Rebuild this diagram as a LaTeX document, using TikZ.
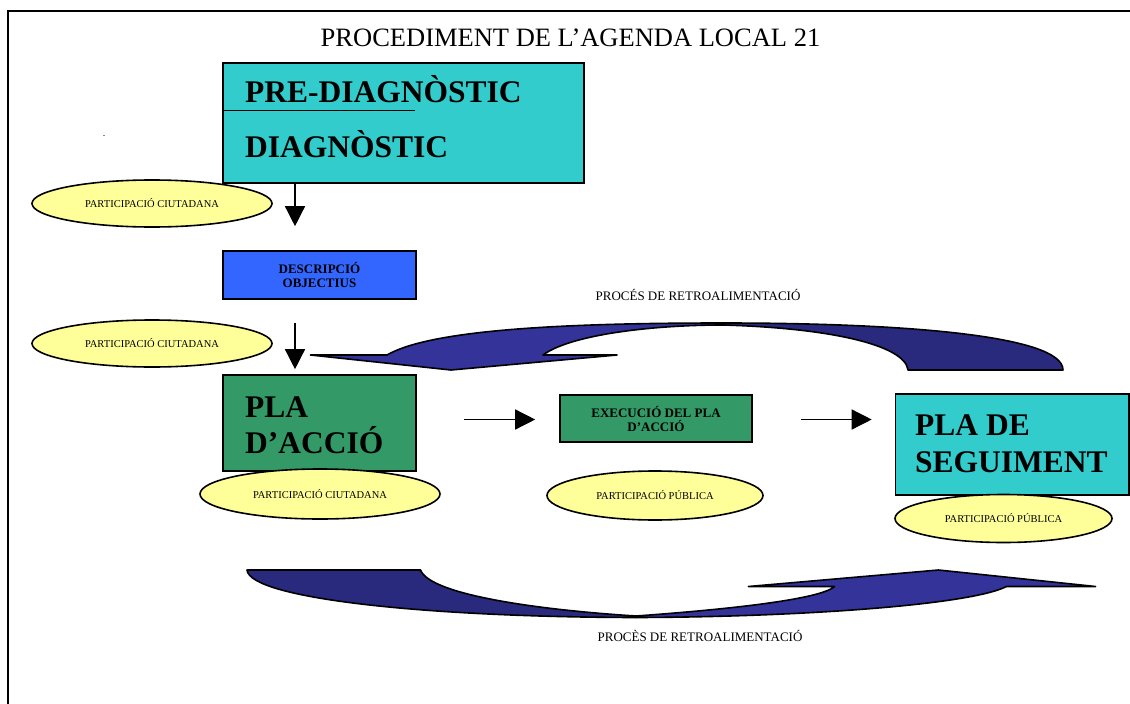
\documentclass[tikz,border=0pt]{standalone}
\usepackage{fontspec}
\setmainfont{Liberation Serif}
\usepackage{xcolor}
\usepackage{tikz}
\usetikzlibrary{shapes.geometric,arrows.meta}
\definecolor{tealbox}{HTML}{33CCCC}
\definecolor{bluebox}{HTML}{3366FF}
\definecolor{greenbox}{HTML}{339966}
\definecolor{partyellow}{HTML}{FFFF99}
\definecolor{loopblue}{HTML}{333399}
\definecolor{loopdark}{HTML}{29297D}

\begin{document}
\begin{tikzpicture}[x=1pt,y=-1pt,
        stagebox/.style={draw,line width=1.6pt,inner sep=0pt},
        partell/.style={ellipse,draw,fill=partyellow,line width=1.6pt,inner sep=0pt,font=\fontsize{10.5}{12}\selectfont},
        bigtxt/.style={anchor=base west,inner sep=0pt,font=\fontsize{31.5}{36}\selectfont\bfseries},
        smalltxt/.style={align=center,font=\fontsize{13}{14}\selectfont\bfseries},
        flowarrow/.style={-{Triangle[length=20pt,width=20pt]},line width=1.4pt},
        feedback/.style={draw,line width=1.6pt,line join=round}]
        \useasboundingbox (0,0) rectangle (1130,704);
        \draw[line width=2.5pt] (8,704) -- (8,11) -- (1130,11);

        \node[anchor=base,inner sep=0pt,font=\fontsize{26.5}{30}\selectfont] (title) at (570.5,46.7) {PROCEDIMENT DE L’AGENDA LOCAL 21};
        \node[anchor=base,inner sep=0pt,font=\fontsize{10}{12}\selectfont] (mark) at (104,136) {.};

        \node[stagebox,fill=tealbox,minimum width=361pt,minimum height=120pt] (prediag) at (403.5,123) {};
        \node[bigtxt] (prediagA) at (245,102) {PRE-DIAGNÒSTIC};
        \node[bigtxt] (prediagB) at (245,157) {DIAGNÒSTIC};
        \draw[line width=1pt] ([yshift=13pt]prediag.west) -- ++(193,0);

        \node[stagebox,smalltxt,fill=bluebox,minimum width=193pt,minimum height=48pt] (desc) at (319.5,275) {DESCRIPCIÓ\\OBJECTIUS};

        \node[stagebox,fill=greenbox,minimum width=193pt,minimum height=96pt] (pla) at (319.5,423) {};
        \node[bigtxt] (plaA) at (245,417) {PLA};
        \node[bigtxt] (plaB) at (245,453) {D’ACCIÓ};

        \node[stagebox,smalltxt,fill=greenbox,minimum width=192pt,minimum height=47pt] (exec) at (656,418.5) {EXECUCIÓ DEL PLA\\D’ACCIÓ};

        \node[stagebox,fill=tealbox,minimum width=233.5pt,minimum height=101pt] (seg) at (1012.25,444.5) {};
        \node[bigtxt] (segA) at (915,435) {PLA DE};
        \node[bigtxt] (segB) at (915,472) {SEGUIMENT};

        \foreach \nm/\cx/\cy/\w/\h/\txt in {pc1/152/203.5/240/47/PARTICIPACIÓ CIUTADANA,
                pc2/152/343.5/240/47/PARTICIPACIÓ CIUTADANA,
                pc3/320/494/240/50/PARTICIPACIÓ CIUTADANA,
                pp1/655/495.5/216/49/PARTICIPACIÓ PÚBLICA,
                pp2/1003.5/518.5/217/48/PARTICIPACIÓ PÚBLICA}
            \node[partell,minimum width=\w pt,minimum height=\h pt] (\nm) at (\cx,\cy) {\txt};

        \draw[flowarrow] ([xshift=-108.5pt]prediag.south) -- ([xshift=-24.5pt,yshift=24pt]desc.north);
        \draw[flowarrow] ([xshift=-24.5pt,yshift=-23pt]desc.south) -- ([xshift=-24.5pt,yshift=5pt]pla.north);
        \draw[flowarrow] ([xshift=47pt,yshift=3.5pt]pla.east) -- ([xshift=-24pt,yshift=-1pt]exec.west);
        \draw[flowarrow] ([xshift=48pt,yshift=-1pt]exec.east) -- ([xshift=-23pt,yshift=25pt]seg.west);

        \node[anchor=base,inner sep=0pt,font=\fontsize{13}{14}\selectfont] (retroA) at (698,300) {PROCÉS DE RETROALIMENTACIÓ};
        \draw[feedback,fill=loopblue] (310.5,355) -- (451,370) -- (617,355) -- (543,355) .. controls (570,335) and (650,325) .. (723,325) -- (723,323) .. controls (560,323) and (430,330) .. (387,355) -- cycle;
        \draw[feedback,fill=loopdark] (723,325) .. controls (830,328) and (905,345) .. (908,370) -- (1063,370) .. controls (1063,335) and (900,323) .. (723,323) -- cycle;

        \draw[feedback,fill=loopdark] (247,570) -- (420.5,570) .. controls (430,595) and (540,610) .. (636,616) -- (636,617.5) .. controls (420,617) and (250,598) .. (247,570) -- cycle;
        \draw[feedback,fill=loopblue] (636,616) .. controls (720,610) and (820,600) .. (834.5,586.5) -- (748.5,586.5) -- (938.5,570) -- (1095.5,586.5) -- (1006.5,586.5) .. controls (970,605) and (800,617) .. (636,617.5) -- cycle;
        \node[anchor=base,inner sep=0pt,font=\fontsize{13}{14}\selectfont] (retroB) at (700,641.5) {PROCÈS DE RETROALIMENTACIÓ};
    \end{tikzpicture}
\end{document}
